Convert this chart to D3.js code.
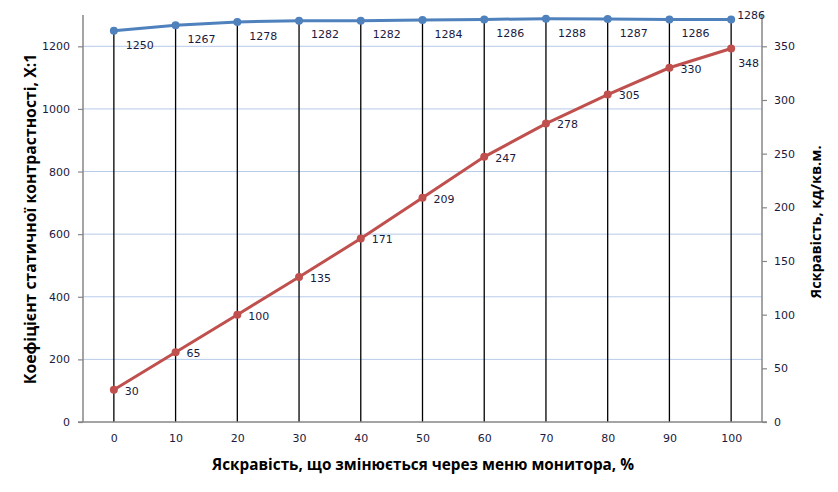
<!DOCTYPE html>
<html>
<head>
<meta charset="utf-8">
<script src="https://cdn.jsdelivr.net/npm/d3@7"></script>
<style>
    body { margin: 0; background: #fff; }
</style>
</head>
<body>
<svg id="chart"></svg>
<script>
// brightness set through the monitor menu, %
const brightnessSteps = [0, 10, 20, 30, 40, 50, 60, 70, 80, 90, 100];
// static contrast ratio, X:1 (left axis)
const contrastValues = [1250, 1267, 1278, 1282, 1282, 1284, 1286, 1288, 1287, 1286, 1286];
// luminance, cd/m2 (right axis)
const luminanceValues = [30, 65, 100, 135, 171, 209, 247, 278, 305, 330, 348];

const leftTicks = [0, 200, 400, 600, 800, 1000, 1200];
const rightTicks = [0, 50, 100, 150, 200, 250, 300, 350];

const xTitle = "Яскравість, що змінюється через меню монитора, %";
const leftTitle = "Коефіцієнт статичної контрастності, Х:1";
const rightTitle = "Яскравість, кд/кв.м.";

const width = 838;
const height = 492;
const margin = { top: 15, right: 76, bottom: 70, left: 83 };

const colorContrast = "#4F81BD";
const colorLuminance = "#C0504D";
const colorGrid = "#B7CBEA";
const colorAxis = "#868686";
const colorText = "#1A1A40";
const tickFont = "'DejaVu Sans', Verdana, sans-serif";
const titleFont = "'Open Sans', Arial, sans-serif";

const svg = d3.select("#chart")
    .attr("width", width)
    .attr("height", height);

const x = d3.scalePoint()
    .domain(brightnessSteps)
    .range([margin.left, width - margin.right])
    .padding(0.5);

const yLeft = d3.scaleLinear()
    .domain([0, 1300])
    .range([height - margin.bottom, margin.top]);

// keep 350 on the right in line with 1200 on the left
const yRight = d3.scaleLinear()
    .domain([0, 1300 * 350 / 1200])
    .range([height - margin.bottom, margin.top]);

const bottomY = height - margin.bottom;

// horizontal gridlines
svg.append("g")
    .selectAll("line")
    .data(leftTicks.filter(d => d > 0))
    .enter()
    .append("line")
    .attr("x1", margin.left)
    .attr("x2", width - margin.right)
    .attr("y1", d => yLeft(d))
    .attr("y2", d => yLeft(d))
    .attr("stroke", colorGrid)
    .attr("stroke-width", 1);

// drop lines from the contrast points
svg.append("g")
    .selectAll("line")
    .data(brightnessSteps)
    .enter()
    .append("line")
    .attr("x1", d => x(d))
    .attr("x2", d => x(d))
    .attr("y1", (d, i) => yLeft(contrastValues[i]))
    .attr("y2", bottomY)
    .attr("stroke", "#000")
    .attr("stroke-width", 1.3);

// axes
const leftAxis = svg.append("g")
    .attr("transform", `translate(${margin.left},0)`)
    .call(d3.axisLeft(yLeft).tickValues(leftTicks).tickFormat(d3.format("d")).tickSize(5).tickPadding(8));

const rightAxis = svg.append("g")
    .attr("transform", `translate(${width - margin.right},0)`)
    .call(d3.axisRight(yRight).tickValues(rightTicks).tickFormat(d3.format("d")).tickSize(5).tickPadding(7));

const bottomAxis = svg.append("g")
    .attr("transform", `translate(0,${bottomY})`)
    .call(d3.axisBottom(x).tickSize(0).tickPadding(12));

[leftAxis, rightAxis, bottomAxis].forEach(ax => {
    ax.select(".domain").attr("stroke", colorAxis).attr("stroke-width", 1.5);
    ax.selectAll(".tick line").attr("stroke", colorAxis).attr("stroke-width", 1.2);
    ax.selectAll(".tick text")
        .attr("fill", colorText)
        .style("font-family", tickFont)
        .style("font-size", "11px");
});
leftAxis.select(".domain").attr("d", `M0,${margin.top}V${bottomY}`);
rightAxis.select(".domain").attr("d", `M0,${margin.top}V${bottomY}`);
bottomAxis.select(".domain").attr("d", `M${margin.left - 5},0H${width - margin.right + 5}`);

// lines
const contrastLine = d3.line()
    .x((d, i) => x(brightnessSteps[i]))
    .y(d => yLeft(d));

const luminanceLine = d3.line()
    .x((d, i) => x(brightnessSteps[i]))
    .y(d => yRight(d));

svg.append("path")
    .datum(luminanceValues)
    .attr("d", luminanceLine)
    .attr("fill", "none")
    .attr("stroke", colorLuminance)
    .attr("stroke-width", 3);

svg.append("path")
    .datum(contrastValues)
    .attr("d", contrastLine)
    .attr("fill", "none")
    .attr("stroke", colorContrast)
    .attr("stroke-width", 3);

// markers
svg.append("g")
    .selectAll("circle")
    .data(luminanceValues)
    .enter()
    .append("circle")
    .attr("cx", (d, i) => x(brightnessSteps[i]))
    .attr("cy", d => yRight(d))
    .attr("r", 4)
    .attr("fill", colorLuminance);

svg.append("g")
    .selectAll("circle")
    .data(contrastValues)
    .enter()
    .append("circle")
    .attr("cx", (d, i) => x(brightnessSteps[i]))
    .attr("cy", d => yLeft(d))
    .attr("r", 4)
    .attr("fill", colorContrast);

// data labels
const last = brightnessSteps.length - 1;

svg.append("g")
    .selectAll("text")
    .data(contrastValues)
    .enter()
    .append("text")
    .attr("x", (d, i) => x(brightnessSteps[i]) + (i === last ? 6 : 12))
    .attr("y", (d, i) => yLeft(d) + (i === last ? -4 : 14))
    .attr("dy", "0.35em")
    .attr("fill", colorText)
    .style("font-family", tickFont)
    .style("font-size", "11px")
    .text(d => d);

svg.append("g")
    .selectAll("text")
    .data(luminanceValues)
    .enter()
    .append("text")
    .attr("x", (d, i) => x(brightnessSteps[i]) + (i === last ? 7 : 11))
    .attr("y", (d, i) => yRight(d) + (i === last ? 15 : 1))
    .attr("dy", "0.35em")
    .attr("fill", colorText)
    .style("font-family", tickFont)
    .style("font-size", "11px")
    .text(d => d);

// axis titles
svg.append("text")
    .attr("x", 423)
    .attr("y", 465)
    .attr("dy", "0.35em")
    .attr("text-anchor", "middle")
    .style("font-family", titleFont)
    .style("font-weight", "bold")
    .style("font-size", "15.3px")
    .text(xTitle);

svg.append("text")
    .attr("transform", "translate(30,219) rotate(-90)")
    .attr("dy", "0.35em")
    .attr("text-anchor", "middle")
    .style("font-family", titleFont)
    .style("font-weight", "bold")
    .style("font-size", "15.8px")
    .text(leftTitle);

svg.append("text")
    .attr("transform", "translate(816,222) rotate(-90)")
    .attr("dy", "0.35em")
    .attr("text-anchor", "middle")
    .style("font-family", titleFont)
    .style("font-weight", "bold")
    .style("font-size", "14.5px")
    .text(rightTitle);
</script>
</body>
</html>
